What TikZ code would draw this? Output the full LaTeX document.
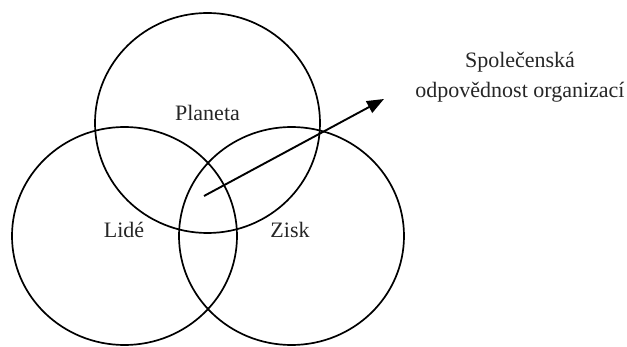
\documentclass[tikz,border=0pt]{standalone}
\usepackage{fontspec}
\setmainfont{Liberation Serif}
\usetikzlibrary{arrows.meta}
\tikzset{
  ring/.style={draw=black, line width=1.7pt},
  lbl/.style={font=\fontsize{22}{30}\selectfont, text=black!85, inner sep=0pt},
  pointer/.style={draw=black, line width=1.9pt, -{Triangle[length=17pt,width=13pt]}}
}
\begin{document}
\begin{tikzpicture}[x=1pt,y=-1pt]
\useasboundingbox (0,0) rectangle (627,347);
\coordinate (cP) at (207.5,123);
\coordinate (cL) at (124.5,236);
\coordinate (cZ) at (291.5,236);
\draw[ring] (cP) ellipse [x radius=112.5pt, y radius=110pt];
\draw[ring] (cL) ellipse [x radius=112.5pt, y radius=109pt];
\draw[ring] (cZ) ellipse [x radius=112.5pt, y radius=109pt];
\node[lbl] (planeta) at (207.5,113) {Planeta};
\node[lbl] (lide) at (124,230) {Lidé};
\node[lbl] (zisk) at (290,230) {Zisk};
\node[lbl, align=center] (spo) at (520,77) {Společenská\\odpovědnost organizací};
\coordinate (start) at (204,196);
\coordinate (tip) at (384,99);
\draw[pointer] (start) -- (tip);
\end{tikzpicture}
\end{document}
